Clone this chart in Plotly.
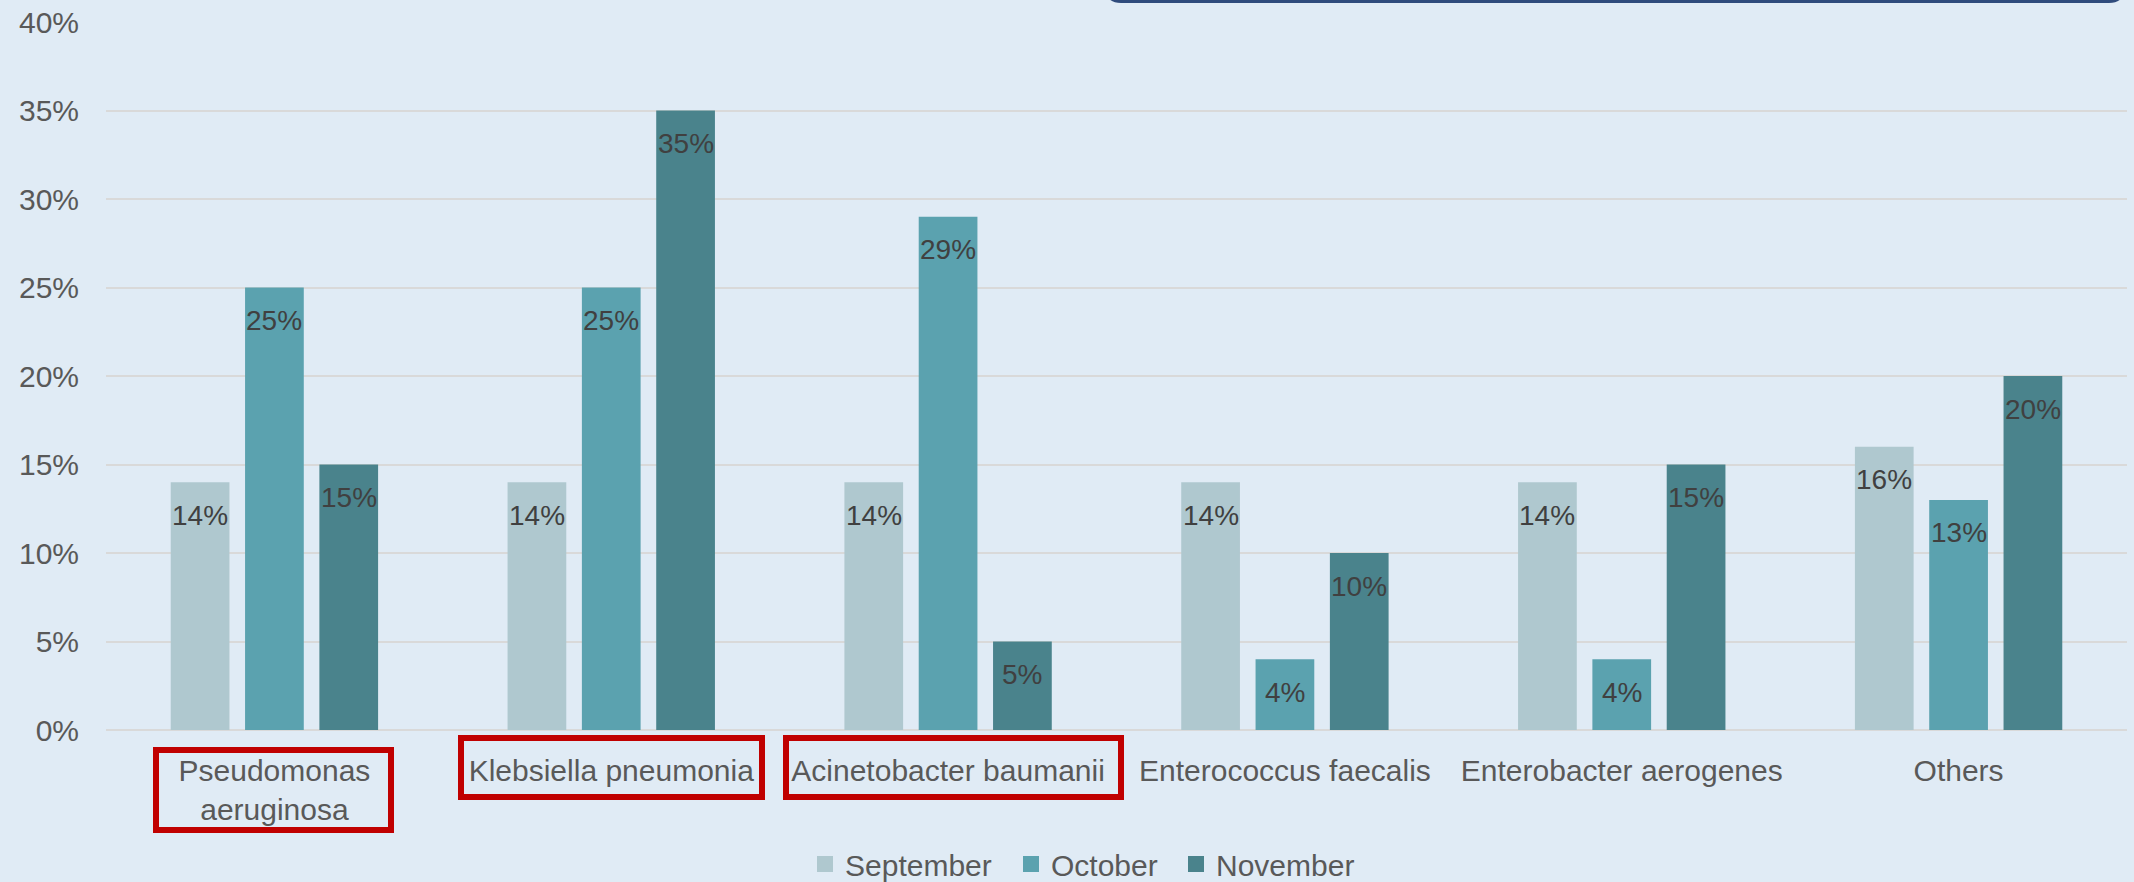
import plotly.graph_objects as go

categories = ["Pseudomonas<br>aeruginosa", "Klebsiella pneumonia", "Acinetobacter baumanii",
              "Enterococcus faecalis", "Enterobacter aerogenes", "Others"]
series_names = ["September", "October", "November"]
september = [14, 14, 14, 14, 14, 16]
october = [25, 25, 29, 4, 4, 13]
november = [15, 35, 5, 10, 15, 20]
colors = ["#AFC8CF", "#5BA2AF", "#4A838C"]
y_ticks = [0, 5, 10, 15, 20, 25, 30, 35, 40]

W, H = 2134, 882
L, R, T, B = 106, 2127, 22, 730


def px(x):
    return (x - L) / (R - L)


def py(y):
    return (H - y) / (H - T)


fig = go.Figure()
all_series = [september, october, november]
for name, vals, col in zip(series_names, all_series, colors):
    fig.add_trace(go.Bar(x=categories, y=vals, name=name, marker_color=col,
                         marker_line_width=0, showlegend=False))
# legend entries with larger square swatches, one legend box per entry
legend_ids = ["legend", "legend2", "legend3"]
legend_left = [805, 1011, 1176]
for name, col, lid in zip(series_names, colors, legend_ids):
    fig.add_trace(go.Scatter(x=[None], y=[None], mode="markers", name=name,
                             legend=lid,
                             marker=dict(symbol="square", size=17, color=col)))

# data labels (inside end)
slot = (R - L) / len(categories) * (1 - 0.338) / 3
annotations = []
for i, vals in enumerate(all_series):
    for c, v in zip(categories, vals):
        annotations.append(dict(x=c, y=v, xref="x", yref="y", text=f"{v}%",
                                showarrow=False, yshift=-33, xshift=(i - 1) * slot,
                                yanchor="middle",
                                font=dict(family="Liberation Sans", size=28, color="#404040")))

shapes = []
# red highlight boxes around first three category labels
for (x0, x1, y0, y1) in [(156, 391, 750, 830), (461, 762, 738, 797), (786, 1121, 738, 797)]:
    shapes.append(dict(type="rect", xref="paper", yref="paper",
                       x0=px(x0), x1=px(x1), y0=py(y1), y1=py(y0),
                       line=dict(color="#C00000", width=6)))

# partially visible rounded box at top
bx0, bx1, yb, r, yt = 1107, 2123, 1.5, 14, -40
path = (f"M {px(bx0)},{py(yt)} L {px(bx0)},{py(yb - r)} "
        f"Q {px(bx0)},{py(yb)} {px(bx0 + r)},{py(yb)} "
        f"L {px(bx1 - r)},{py(yb)} "
        f"Q {px(bx1)},{py(yb)} {px(bx1)},{py(yb - r)} "
        f"L {px(bx1)},{py(yt)}")
shapes.append(dict(type="path", xref="paper", yref="paper", path=path,
                   line=dict(color="#2F4B7C", width=3)))

legend_style = {}
for lid, lx in zip(legend_ids, legend_left):
    legend_style[lid] = dict(orientation="h", x=px(lx), xanchor="left", y=py(890),
                             yanchor="bottom", font=dict(size=30, color="#595959"),
                             bgcolor="rgba(0,0,0,0)", itemclick=False)

fig.update_layout(
    width=W, height=H,
    margin=dict(l=L, r=W - R, t=T, b=0, autoexpand=False),
    paper_bgcolor="#E0EBF5", plot_bgcolor="#E0EBF5",
    barmode="group", bargap=0.338, bargroupgap=0.21,
    font=dict(family="Liberation Sans", size=30, color="#595959"),
    showlegend=True,
    annotations=annotations,
    shapes=shapes,
    **legend_style,
)
fig.update_yaxes(domain=[py(B), 1], range=[0, 40], tickvals=y_ticks,
                 ticktext=[f"{t}%" for t in y_ticks],
                 showgrid=True, gridcolor="#D9D9D9", gridwidth=2,
                 zeroline=True, zerolinecolor="#D9D9D9", zerolinewidth=2,
                 showline=False, ticks="", ticklabelstandoff=26, automargin=False,
                 tickfont=dict(size=30, color="#595959"))
fig.update_xaxes(showgrid=False, showline=False, ticks="", ticklabelstandoff=20,
                 automargin=False, tickfont=dict(size=30, color="#595959"))

fig.write_html("out.html")
